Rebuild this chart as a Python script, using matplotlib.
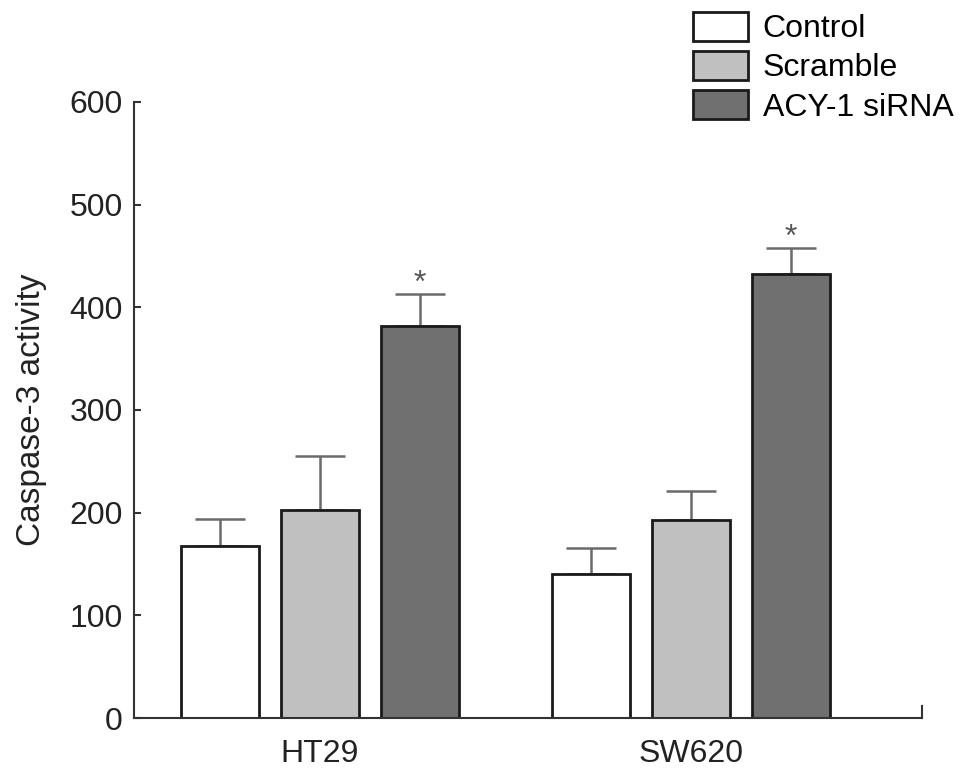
import matplotlib
matplotlib.use("Agg")
import matplotlib.pyplot as plt
import numpy as np

plt.rcParams['font.family'] = ['Liberation Sans', 'DejaVu Sans']

cell_lines = ["HT29", "SW620"]
series = ["Control", "Scramble", "ACY-1 siRNA"]
values = {
    "Control": [168, 140],
    "Scramble": [203, 193],
    "ACY-1 siRNA": [382, 432],
}
errors = {
    "Control": [26, 26],
    "Scramble": [52, 28],
    "ACY-1 siRNA": [31, 26],
}
significant = {"ACY-1 siRNA": ["*", "*"]}
colors = ["#ffffff", "#c0c0c0", "#707070"]
yticks = [0, 100, 200, 300, 400, 500, 600]

FS = 23

fig = plt.figure(figsize=(9.69, 7.76), dpi=100)
ax = fig.add_axes([0.1383, 0.0747, 0.8132, 0.7939])

x = np.arange(len(cell_lines))
step = 0.27
width = 0.21
handles = []
for i, (name, col) in enumerate(zip(series, colors)):
    pos = x + (i - 1) * step
    b = ax.bar(pos, values[name], width, color=col, edgecolor="#1a1a1a",
               linewidth=2.0, label=name, zorder=2)
    handles.append(b)
    ax.errorbar(pos, values[name], yerr=[np.zeros(len(x)), errors[name]],
                fmt="none", ecolor="#6a6a6a", elinewidth=1.8, capsize=18,
                capthick=1.8, zorder=1)
    if name in significant:
        for p, v, e, s in zip(pos, values[name], errors[name], significant[name]):
            ax.text(p, v + e + 10, s, ha="center", va="center", fontsize=FS,
                    color="#555555")

ax.set_xlim(-0.501, 1.623)
ax.set_ylim(0, 600)
ax.set_yticks(yticks)
ax.set_yticklabels([str(t) for t in yticks], fontsize=FS, color="#222222")
ax.set_xticks(x)
ax.set_xticklabels(cell_lines, fontsize=FS, color="#222222")
ax.tick_params(axis="x", length=0, pad=15)
ax.tick_params(axis="y", direction="in", length=5, width=1.5, pad=8,
               color="#333333")
ax.set_ylabel("Caspase-3 activity", fontsize=24, labelpad=16, color="#222222")
for s in ["top", "right"]:
    ax.spines[s].set_visible(False)
for s in ["left", "bottom"]:
    ax.spines[s].set_linewidth(1.5)
    ax.spines[s].set_color("#333333")
# small end tick at right end of the x axis
ax.plot([1.623, 1.623], [0, 12], color="#333333", lw=1.5, clip_on=False)

fig.legend(handles=handles, labels=series, loc="upper left",
           bbox_to_anchor=(0.715, 0.985), frameon=False, fontsize=FS,
           handlelength=1.72, handleheight=1.05, labelspacing=0.2,
           handletextpad=0.47, borderaxespad=0, borderpad=0)

fig.savefig("out.png", dpi=100)
